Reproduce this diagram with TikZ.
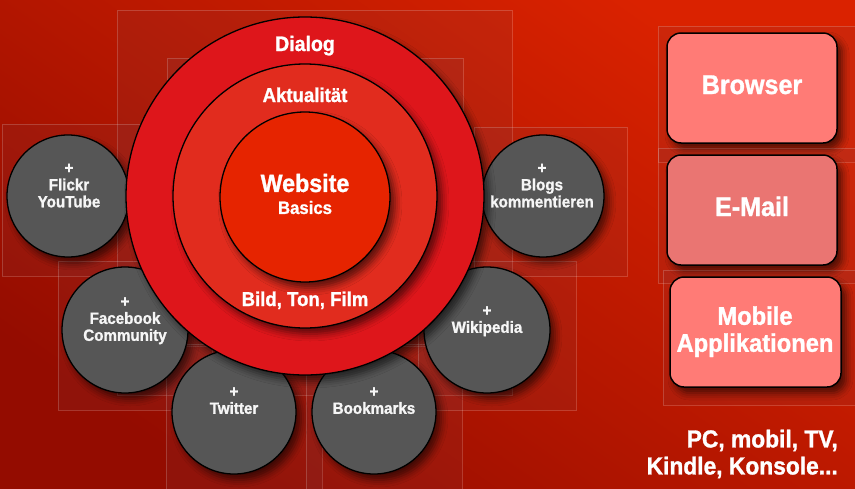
\documentclass[tikz,border=0pt]{standalone}
\usepackage{fontspec}
\setmainfont{Liberation Sans}[FakeStretch=0.93, FakeBold=1.2]
\usetikzlibrary{shadows.blur}

\newcommand\tsz[2]{\fontsize{#1}{#2}\selectfont}

\definecolor{bgLight}{RGB}{218,34,0}
\definecolor{bgDark}{RGB}{148,12,0}
\definecolor{framefill}{RGB}{120,70,80}
\definecolor{ringOuter}{RGB}{222,22,27}
\definecolor{ringMid}{RGB}{225,44,30}
\definecolor{ringInner}{RGB}{230,36,0}
\definecolor{bubbleGray}{RGB}{86,86,86}
\definecolor{bubbleText}{RGB}{246,246,246}
\definecolor{chanLight}{RGB}{255,123,118}
\definecolor{chanMuted}{RGB}{234,117,114}

\tikzset{
  frame/.style={draw=white, draw opacity=0.18, line width=0.6pt,
                fill=framefill, fill opacity=0.13},
  softshadow/.style={blur shadow={shadow xshift=5pt, shadow yshift=-6pt,
                shadow blur radius=7pt, shadow opacity=60}},
  disc/.style={circle, draw=black, line width=1.3pt, inner sep=0pt,
               outer sep=0pt, softshadow},
  bubble/.style={disc, fill=bubbleGray, minimum size=#1},
  channel/.style={rectangle, rounded corners=14pt, draw=black,
               line width=1.5pt, inner sep=0pt, softshadow,
               minimum width=170pt, minimum height=110pt},
  title/.style={text=white, inner sep=0pt, anchor=base, font=\bfseries},
  block/.style={text=white, inner sep=0pt, align=center, font=\bfseries,
               execute at begin node=\strut, execute at end node=\strut},
  bubbletext/.style={block, text=bubbleText, font=\bfseries\tsz{16.3}{17}},
}

\begin{document}
\begin{tikzpicture}[x=1pt,y=-1pt]
\useasboundingbox (0,0) rectangle (855,488);

% background
\shade[shading=axis, top color=bgLight, bottom color=bgDark,
       shading angle=-35] (0,0) rectangle (855,488);

% translucent bounding frames behind each element
\foreach \xa/\ya/\xb/\yb in {117/10/512/395, 167/58/463/346,
    2/124/154/276, 58/261/212/410, 166/344/322/500, 306/344/462/500,
    418/261/576/410, 474/127/627/276,
    658/26/870/162, 658/148/870/283, 663/270/870/405}
  \path[frame] (\xa,\ya) rectangle (\xb,\yb);

% outer bubbles
\node[bubble=122pt] (flickr)    at (68,196)  {};
\node[bubble=122pt] (blogs)     at (543,196) {};
\node[bubble=126pt] (facebook)  at (125,330) {};
\node[bubble=126pt] (wikipedia) at (487,330) {};
\node[bubble=124pt] (twitter)   at (234,412) {};
\node[bubble=124pt] (bookmarks) at (374,412) {};

% concentric rings
\node[disc, fill=ringOuter, minimum size=358pt] (dialog) at (305,196) {};
\node[disc, fill=ringMid,   minimum size=264pt] (aktual) at (305,196) {};
\node[disc, fill=ringInner, minimum size=170pt] (basics) at (305,197) {};

% ring labels
\node[title, font=\bfseries\tsz{21}{21}]     (dialogtext) at (305,51)  {Dialog};
\node[title, font=\bfseries\tsz{20}{20}]     (aktualtext) at (305,102) {Aktualität};
\node[title, font=\bfseries\tsz{20}{20}]     (mediatext)  at (305,306) {Bild, Ton, Film};
\node[block, font=\bfseries\tsz{18}{22}]     (basicstext) at (305,197.2)
     {{\tsz{25}{25}Website}\\Basics};

% bubble labels
\node[bubbletext] (flickrtext)    at (69,188.1)  {+\\Flickr\\YouTube};
\node[bubbletext] (blogstext)     at (542,188.1) {+\\Blogs\\kommentieren};
\node[bubbletext] (facebooktext)  at (125,321.6) {+\\Facebook\\Community};
\node[bubbletext] (wikipediatext) at (487,322.1) {+\\Wikipedia};
\node[bubbletext] (twittertext)   at (234,403.1) {+\\Twitter};
\node[bubbletext] (bookmarkstext) at (374,403.1) {+\\Bookmarks};

% delivery channels
\node[channel, fill=chanLight] (browser) at (752,88)    {};
\node[channel, fill=chanMuted] (email)   at (752,210)   {};
\node[channel, fill=chanLight, minimum width=171pt] (mobile) at (755.5,332) {};

\node[title, font=\bfseries\tsz{27}{27}] (browsertext) at (752,94)  {Browser};
\node[title, font=\bfseries\tsz{27}{27}] (emailtext)   at (752,216) {E-Mail};
\node[block, font=\bfseries\tsz{25.5}{27}] (mobiletext) at (755,333.1)
     {Mobile\\Applikationen};

% device note
\node[block, align=right, anchor=east, font=\bfseries\tsz{24.5}{27}]
     (devices) at (838,456.1) {PC, mobil, TV,\\Kindle, Konsole...};
\end{tikzpicture}
\end{document}
